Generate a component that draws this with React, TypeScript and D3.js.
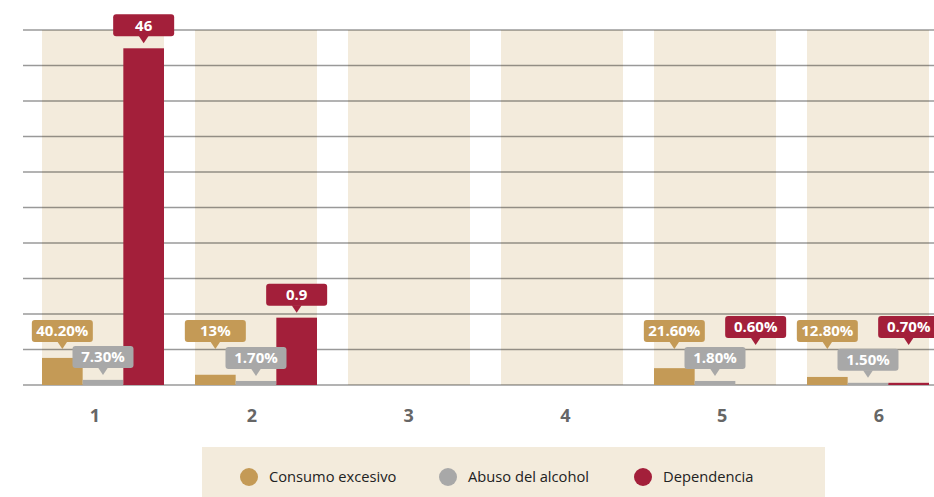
import React, { useEffect, useRef } from 'react';
import * as d3 from 'd3';

const categories = ['1', '2', '3', '4', '5', '6'];
const seriesNames = ['Consumo excesivo', 'Abuso del alcohol', 'Dependencia'];
const seriesColors = ['#c49a56', '#a8a8a8', '#a31f3a'];

// bar heights (axis units)
const consumoValues = [3.7, 1.4, 0, 0, 2.3, 1.1];
const abusoValues = [0.7, 0.55, 0, 0, 0.55, 0.3];
const dependenciaValues = [46, 9.2, 0, 0, 0, 0.3];

// callout texts as printed on the chart
const consumoLabels = ['40.20%', '13%', '', '', '21.60%', '12.80%'];
const abusoLabels = ['7.30%', '1.70%', '', '', '1.80%', '1.50%'];
const dependenciaLabels = ['46', '0.9', '', '', '0.60%', '0.70%'];

const yMax = 48.5;
const gridCount = 10;

const W = 934;
const H = 497;

const App: React.FC = () => {
  const svgRef = useRef<SVGSVGElement>(null);

  useEffect(() => {
    if (!svgRef.current) return;
    const svg = d3.select(svgRef.current);
    svg.selectAll('*').remove();

    const values = [consumoValues, abusoValues, dependenciaValues];
    const labels = [consumoLabels, abusoLabels, dependenciaLabels];

    const baseY = 385;
    const topY = 30;

    const x = d3.scaleBand<string>()
      .domain(categories)
      .range([42, 929])
      .paddingInner(0.2026)
      .paddingOuter(0);

    const xSub = d3.scaleBand<number>()
      .domain([0, 1, 2])
      .range([0, x.bandwidth()])
      .padding(0);

    const y = d3.scaleLinear()
      .domain([0, yMax])
      .range([baseY, topY]);

    // tick labels sit a little off the band centres in the original
    const xLabel = d3.scalePoint<string>()
      .domain(categories)
      .range([95, 879]);

    // background bands
    svg.append('g')
      .selectAll('rect')
      .data(categories)
      .enter()
      .append('rect')
      .attr('x', d => x(d)!)
      .attr('y', topY)
      .attr('width', x.bandwidth())
      .attr('height', baseY - topY)
      .style('fill', '#f3ebdc');

    // grid lines
    const gridVals = d3.range(0, gridCount + 1).map(i => (yMax / gridCount) * i);
    svg.append('g')
      .selectAll('line')
      .data(gridVals)
      .enter()
      .append('line')
      .attr('x1', 23)
      .attr('x2', W)
      .attr('y1', d => y(d))
      .attr('y2', d => y(d))
      .style('stroke', '#000')
      .style('stroke-opacity', 0.4)
      .style('stroke-width', 1.4);

    // bars
    values.forEach((vals, s) => {
      svg.append('g')
        .selectAll('rect')
        .data(vals)
        .enter()
        .append('rect')
        .attr('x', (d, i) => x(categories[i])! + xSub(s)!)
        .attr('y', d => y(d))
        .attr('width', xSub.bandwidth())
        .attr('height', d => baseY - y(d))
        .style('fill', seriesColors[s]);
    });

    // callouts
    const boxW = 61;
    const boxH = 22;
    const tipH = 7;
    const caps = [342, 371, 338];

    labels.forEach((labs, s) => {
      labs.forEach((txt, i) => {
        if (!txt) return;
        const cx = x(categories[i])! + xSub(s)! + xSub.bandwidth() / 2;
        const bottom = Math.min(y(values[s][i]) - 12, caps[s]);
        const g = svg.append('g');
        g.append('rect')
          .attr('x', cx - boxW / 2)
          .attr('y', bottom - boxH)
          .attr('width', boxW)
          .attr('height', boxH)
          .attr('rx', 3)
          .style('fill', seriesColors[s]);
        g.append('path')
          .attr('d', `M${cx - 5},${bottom - 0.5}L${cx + 5},${bottom - 0.5}L${cx},${bottom + tipH}Z`)
          .style('fill', seriesColors[s]);
        g.append('text')
          .attr('x', cx)
          .attr('y', bottom - boxH / 2)
          .attr('dy', '0.36em')
          .attr('text-anchor', 'middle')
          .style('fill', '#fff')
          .style('font-family', '"Open Sans", sans-serif')
          .style('font-weight', 'bold')
          .style('font-size', '15px')
          .text(txt);
      });
    });

    // category labels
    svg.append('g')
      .selectAll('text')
      .data(categories)
      .enter()
      .append('text')
      .attr('x', d => xLabel(d)!)
      .attr('y', 422)
      .attr('text-anchor', 'middle')
      .style('fill', '#666')
      .style('font-family', '"Open Sans", sans-serif')
      .style('font-weight', 'bold')
      .style('font-size', '18px')
      .text(d => d);

    // legend
    svg.append('rect')
      .attr('x', 202)
      .attr('y', 447)
      .attr('width', 623)
      .attr('height', 50)
      .style('fill', '#f3ebdc');

    const legendX = [249, 448, 643];
    seriesNames.forEach((name, s) => {
      svg.append('circle')
        .attr('cx', legendX[s])
        .attr('cy', 477)
        .attr('r', 9)
        .style('fill', seriesColors[s]);
      svg.append('text')
        .attr('x', legendX[s] + 20)
        .attr('y', 482)
        .style('fill', '#222')
        .style('font-family', '"Open Sans", sans-serif')
        .style('font-size', '14.7px')
        .text(name);
    });
  }, []);

  return (
    <div>
      <style>{'body{margin:0;}'}</style>
      <svg ref={svgRef} width={W} height={H} style={{ display: 'block' }} />
    </div>
  );
};

export default App;
